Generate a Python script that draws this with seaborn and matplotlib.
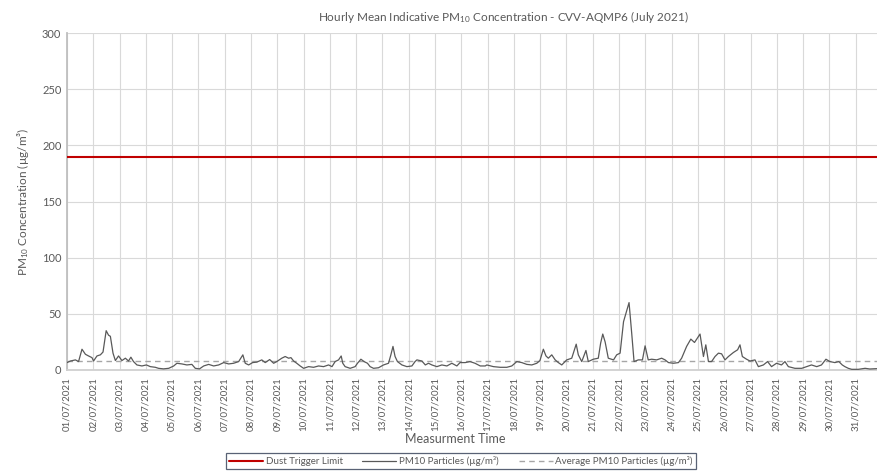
import matplotlib
matplotlib.use("Agg")
import matplotlib.pyplot as plt
import seaborn as sns
import pandas as pd

# ---- data ----
TITLE = "Hourly Mean Indicative PM$_{10}$ Concentration - CVV-AQMP6 (July 2021)"
YLABEL = "PM$_{10}$ Concentration (µg/m³)"
XLABEL = "Measurment Time"

# time in days since 01/07/2021 00:00
DAYS = [0.00, 0.13, 0.32, 0.44, 0.57, 0.70, 0.82, 0.95, 1.01, 1.14, 1.27, 1.37,
        1.49, 1.58, 1.65, 1.75, 1.84, 1.96, 2.09, 2.22, 2.34, 2.43, 2.53, 2.66,
        2.85, 3.02, 3.17, 3.36, 3.48, 3.67, 3.87, 4.06, 4.18, 4.37, 4.56, 4.75,
        4.88, 5.04, 5.20, 5.39, 5.58, 5.77, 5.96, 6.15, 6.34, 6.53, 6.69, 6.78,
        6.91, 7.06, 7.22, 7.41, 7.54, 7.71, 7.86, 7.98, 8.17, 8.30, 8.43, 8.52,
        8.62, 8.74, 8.87, 9.00, 9.19, 9.38, 9.57, 9.76, 9.95, 10.08, 10.20, 10.33,
        10.43, 10.49, 10.58, 10.77, 10.96, 11.05, 11.18, 11.30, 11.43, 11.53, 11.66, 11.85,
        12.04, 12.23, 12.32, 12.40, 12.48, 12.57, 12.74, 12.93, 13.12, 13.24, 13.31, 13.50,
        13.63, 13.75, 13.88, 14.07, 14.26, 14.45, 14.64, 14.83, 14.95, 15.15, 15.33, 15.52,
        15.72, 15.91, 15.97, 16.22, 16.48, 16.73, 16.92, 17.11, 17.30, 17.49, 17.68, 17.87,
        17.99, 18.12, 18.22, 18.31, 18.44, 18.57, 18.69, 18.82, 19.01, 19.20, 19.37, 19.45,
        19.58, 19.74, 19.83, 20.02, 20.21, 20.30, 20.38, 20.47, 20.59, 20.79, 20.91, 21.04,
        21.17, 21.38, 21.48, 21.57, 21.73, 21.89, 21.99, 22.11, 22.24, 22.43, 22.62, 22.75,
        22.88, 23.07, 23.26, 23.38, 23.57, 23.73, 23.87, 24.08, 24.21, 24.30, 24.40, 24.52,
        24.65, 24.78, 24.90, 25.03, 25.16, 25.35, 25.51, 25.60, 25.69, 25.85, 25.98, 26.17,
        26.30, 26.49, 26.65, 26.80, 26.99, 27.18, 27.31, 27.44, 27.69, 27.95, 28.14, 28.32,
        28.52, 28.70, 28.87, 29.02, 29.21, 29.36, 29.49, 29.59, 29.72, 29.85, 30.10, 30.36,
        30.54, 30.80]
PM10 = [6.6, 8.0, 9.0, 7.5, 18.5, 14.0, 12.5, 11.0, 8.0, 12.5, 13.5, 16.0,
        35.0, 31.0, 30.0, 15.0, 8.4, 12.5, 8.4, 10.5, 8.0, 11.4, 7.5, 4.5,
        3.6, 4.5, 3.0, 2.4, 1.5, 1.0, 1.5, 3.6, 6.0, 5.4, 4.5, 5.0,
        1.5, 1.0, 3.6, 5.0, 3.6, 4.5, 6.6, 5.4, 6.0, 7.5, 13.5, 6.0,
        4.5, 6.6, 7.0, 9.0, 6.6, 9.3, 6.0, 7.5, 10.5, 12.0, 10.5, 11.0,
        8.0, 6.0, 3.6, 1.5, 3.0, 2.4, 3.6, 3.0, 4.5, 3.0, 7.5, 9.0,
        12.5, 6.0, 3.0, 1.5, 3.0, 6.0, 9.6, 7.5, 6.0, 3.0, 1.5, 2.0,
        4.5, 6.0, 13.5, 21.0, 12.0, 7.5, 4.5, 3.0, 3.6, 7.5, 9.0, 8.0,
        4.5, 6.0, 4.5, 3.0, 4.5, 3.6, 6.0, 3.6, 6.6, 6.6, 7.5, 6.0,
        3.6, 3.6, 4.5, 3.0, 2.4, 2.4, 3.6, 7.5, 6.6, 5.0, 4.5, 6.0,
        8.4, 18.5, 12.5, 10.5, 13.5, 9.0, 6.6, 4.5, 9.0, 10.5, 23.0, 13.5,
        7.5, 17.4, 7.5, 9.6, 10.5, 24.0, 32.0, 25.0, 10.5, 9.0, 13.5, 15.0,
        43.0, 60.0, 33.0, 7.5, 9.0, 9.0, 21.5, 9.0, 9.6, 9.0, 10.5, 9.0,
        6.6, 6.0, 6.6, 10.5, 21.0, 27.5, 24.5, 32.0, 12.0, 22.4, 7.5, 7.5,
        12.0, 15.0, 14.4, 9.0, 12.0, 15.6, 18.0, 22.4, 12.0, 9.6, 8.0, 9.0,
        3.0, 4.5, 7.5, 3.0, 6.0, 4.5, 7.5, 3.0, 1.5, 1.5, 3.0, 4.5,
        3.0, 4.5, 9.6, 7.5, 6.6, 7.5, 4.5, 3.0, 1.5, 0.6, 0.6, 1.5,
        0.9, 1.2]

TRIGGER = 190
AVERAGE = 8.1

TICK_DAYS = list(range(31))
TICK_LABELS = ["01/07/2021", "02/07/2021", "03/07/2021", "04/07/2021", "05/07/2021",
               "06/07/2021", "07/07/2021", "08/07/2021", "09/07/2021", "10/07/2021",
               "11/07/2021", "12/07/2021", "13/07/2021", "14/07/2021", "15/07/2021",
               "16/07/2021", "17/07/2021", "18/07/2021", "19/07/2021", "20/07/2021",
               "21/07/2021", "22/07/2021", "23/07/2021", "24/07/2021", "25/07/2021",
               "26/07/2021", "27/07/2021", "28/07/2021", "29/07/2021", "30/07/2021",
               "31/07/2021"]
Y_TICKS = [0, 50, 100, 150, 200, 250, 300]

LEGEND_LABELS = ["Dust Trigger Limit", "PM10 Particles (µg/m³)", "Average PM10 Particles (µg/m³)"]

# ---- styling ----
sns.set_theme(style="white")
plt.rcParams["font.family"] = ["Lato", "DejaVu Sans"]
plt.rcParams["mathtext.default"] = "regular"
TXT = "#595959"

df = pd.DataFrame({"day": DAYS, "pm10": PM10})

fig = plt.figure(figsize=(8.78, 4.73), dpi=100)
ax = fig.add_axes([67 / 878, 1 - 370 / 473, 1 - 67 / 878, (370 - 33) / 473])

ax.axhline(TRIGGER, color="#c00000", lw=1.5, zorder=3, label=LEGEND_LABELS[0])
sns.lineplot(data=df, x="day", y="pm10", ax=ax, color="#595959", lw=0.9,
             zorder=4, label=LEGEND_LABELS[1])
ax.axhline(AVERAGE, color="#a6a6a6", lw=1.0, ls=(0, (4, 3)), zorder=3,
           label=LEGEND_LABELS[2])
if ax.get_legend() is not None:
    ax.get_legend().remove()

ax.set_xlim(0, 30.85)
ax.set_ylim(0, 300)
ax.set_xticks(TICK_DAYS)
ax.set_xticklabels(TICK_LABELS, rotation=90, fontsize=7, color=TXT)
ax.set_yticks(Y_TICKS)
ax.set_yticklabels([str(v) for v in Y_TICKS], fontsize=8, color=TXT)
ax.tick_params(axis="both", length=0, pad=4)
ax.tick_params(axis="x", pad=5)

ax.grid(True, color="#d9d9d9", lw=0.8)
ax.set_axisbelow(True)
for s in ["top", "right"]:
    ax.spines[s].set_visible(False)
ax.spines["left"].set_color("#bfbfbf")
ax.spines["left"].set_linewidth(1.3)
ax.spines["bottom"].set_color("#d0d0d0")
ax.spines["bottom"].set_linewidth(1.3)

ax.set_xlabel("")
ax.set_ylabel(YLABEL, fontsize=8.5, color=TXT, labelpad=8)
fig.text(455 / 878, 1 - 439 / 473, XLABEL, ha="center", va="center",
         fontsize=9, color=TXT)
fig.text(503 / 878, 1 - 17 / 473, TITLE, ha="center", va="center",
         fontsize=8.5, color=TXT)

handles, labels = ax.get_legend_handles_labels()
order = [labels.index(l) for l in LEGEND_LABELS]
leg = fig.legend([handles[i] for i in order], [labels[i] for i in order],
                 loc="center", bbox_to_anchor=(461 / 878, 1 - 461 / 473),
                 ncol=3, fontsize=7, frameon=True, fancybox=False,
                 handlelength=3.5, columnspacing=2.0, borderpad=0.35,
                 handletextpad=0.3, labelcolor=TXT)
leg.get_frame().set_edgecolor("#2f3b52")
leg.get_frame().set_linewidth(0.9)

fig.savefig("out.png", dpi=100)
